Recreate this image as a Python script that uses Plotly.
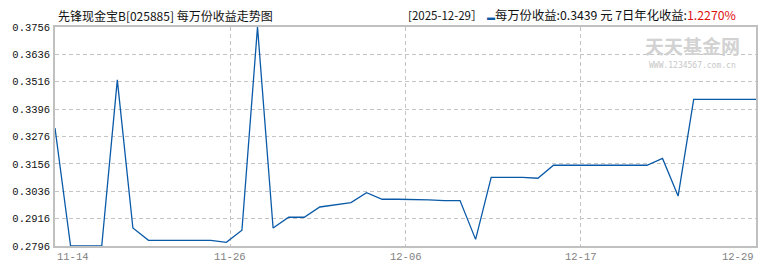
import plotly.graph_objects as go

# ---- data ----
dates = ["11-14","11-15","11-16","11-17","11-18","11-19","11-20","11-21","11-22","11-23",
         "11-24","11-25","11-26","11-27","11-28","11-29","11-30","12-01","12-02","12-03",
         "12-04","12-05","12-06","12-07","12-08","12-09","12-10","12-11","12-12","12-13",
         "12-14","12-15","12-16","12-17","12-18","12-19","12-20","12-21","12-22","12-23",
         "12-24","12-25","12-26","12-27","12-28","12-29"]
values = [0.3313, 0.2796, 0.2796, 0.2796, 0.3524, 0.2875, 0.2821, 0.2821, 0.2821, 0.2821,
          0.2821, 0.2812, 0.2865, 0.3756, 0.2875, 0.2922, 0.2922, 0.2967, 0.2976, 0.2986,
          0.3030, 0.3001, 0.3001, 0.3001, 0.2998, 0.2995, 0.2995, 0.2825, 0.3097, 0.3097,
          0.3097, 0.3093, 0.3150, 0.3150, 0.3150, 0.3150, 0.3150, 0.3150, 0.3150, 0.3180,
          0.3015, 0.3439, 0.3439, 0.3439, 0.3439, 0.3439]
y_ticks = [0.2796, 0.2916, 0.3036, 0.3156, 0.3276, 0.3396, 0.3516, 0.3636, 0.3756]
x_tick_labels = ["11-14", "11-26", "12-06", "12-17", "12-29"]

title_text = "先锋现金宝B[025885] 每万份收益走势图"
date_text = "[2025-12-29］"
info_text = "每万份收益:0.3439 元 7日年化收益:"
rate_text = "1.2270%"

# ---- layout geometry ----
W, H = 770, 270
L, R, T, B = 54, 13, 27, 24
PW, PH = W - L - R, H - T - B

def px(xp):
    return (xp - L) / PW

def py(yp):
    return (H - B - yp) / PH

n = len(dates)
xs = list(range(n))
last = n - 1
tick_pos = [last * k / 4 for k in range(5)]

line_color = "#0a5aa8"
grid_color = "#c4c4c4"
frame_color = "#c0c0c0"

fig = go.Figure()
fig.add_trace(go.Scatter(
    x=xs, y=values, mode="lines",
    line=dict(color=line_color, width=1.3),
    customdata=dates, hovertemplate="%{customdata}: %{y:.4f}<extra></extra>",
    cliponaxis=False, showlegend=False,
))

annotations = []
anchors = ["left", "center", "center", "center", "right"]
for pos, lab, anc in zip(tick_pos, x_tick_labels, anchors):
    annotations.append(dict(
        x=pos, xref="x", y=0, yref="paper", yshift=-11,
        text=lab, showarrow=False, xanchor=anc, yanchor="middle",
        font=dict(family="Liberation Mono, DejaVu Sans Mono, monospace", size=10.5, color="#808080"),
    ))

annotations.append(dict(
    x=px(55), xref="paper", y=py(15), yref="paper",
    text=title_text, showarrow=False, xanchor="left", yanchor="middle",
    font=dict(family="Noto Sans CJK SC, sans-serif", size=12, color="#111111"),
))
annotations.append(dict(
    x=px(406), xref="paper", y=py(15), yref="paper",
    text=date_text, showarrow=False, xanchor="left", yanchor="middle",
    font=dict(family="Noto Sans CJK SC, sans-serif", size=11.5, color="#111111"),
))
annotations.append(dict(
    x=px(739), xref="paper", y=py(15), yref="paper",
    text=(f"<span style='color:{line_color};font-size:8px'>▬</span>{info_text}"
          f"<span style='color:#e01010'>{rate_text}</span>"),
    showarrow=False, xanchor="right", yanchor="middle",
    font=dict(family="Noto Sans CJK SC, sans-serif", size=12.3, color="#111111"),
))
# watermark
annotations.append(dict(
    x=px(693), xref="paper", y=py(45), yref="paper",
    text="<b>天天基金网</b>", showarrow=False, xanchor="center", yanchor="middle",
    font=dict(family="Noto Sans CJK SC, sans-serif", size=19, color="#d2d2d2"),
))
annotations.append(dict(
    x=px(693), xref="paper", y=py(65), yref="paper",
    text="WWW.1234567.com.cn", showarrow=False, xanchor="center", yanchor="middle",
    font=dict(family="DejaVu Sans Mono, monospace", size=8, color="#c8c8c8"),
))

fig.update_layout(
    width=W, height=H,
    margin=dict(l=L, r=R, t=T, b=B, pad=0),
    paper_bgcolor="white", plot_bgcolor="white",
    annotations=annotations,
    xaxis=dict(
        range=[0, last], tickvals=tick_pos, showticklabels=False,
        showgrid=True, gridcolor=grid_color, griddash="4px,3px", gridwidth=1,
        showline=True, linecolor=frame_color, linewidth=1.5, mirror=True,
        zeroline=False, fixedrange=True,
    ),
    yaxis=dict(
        range=[y_ticks[0], y_ticks[-1]], tickvals=y_ticks,
        ticktext=[f"{v:.4f}" for v in y_ticks],
        tickfont=dict(family="Liberation Mono, DejaVu Sans Mono, monospace", size=10.5, color="#111111"),
        ticks="outside", ticklen=1, tickcolor="rgba(0,0,0,0)",
        showgrid=True, gridcolor=grid_color, griddash="4px,3px", gridwidth=1,
        showline=True, linecolor=frame_color, linewidth=1.5, mirror=True,
        zeroline=False, fixedrange=True,
    ),
)

fig.write_html("out.html")
